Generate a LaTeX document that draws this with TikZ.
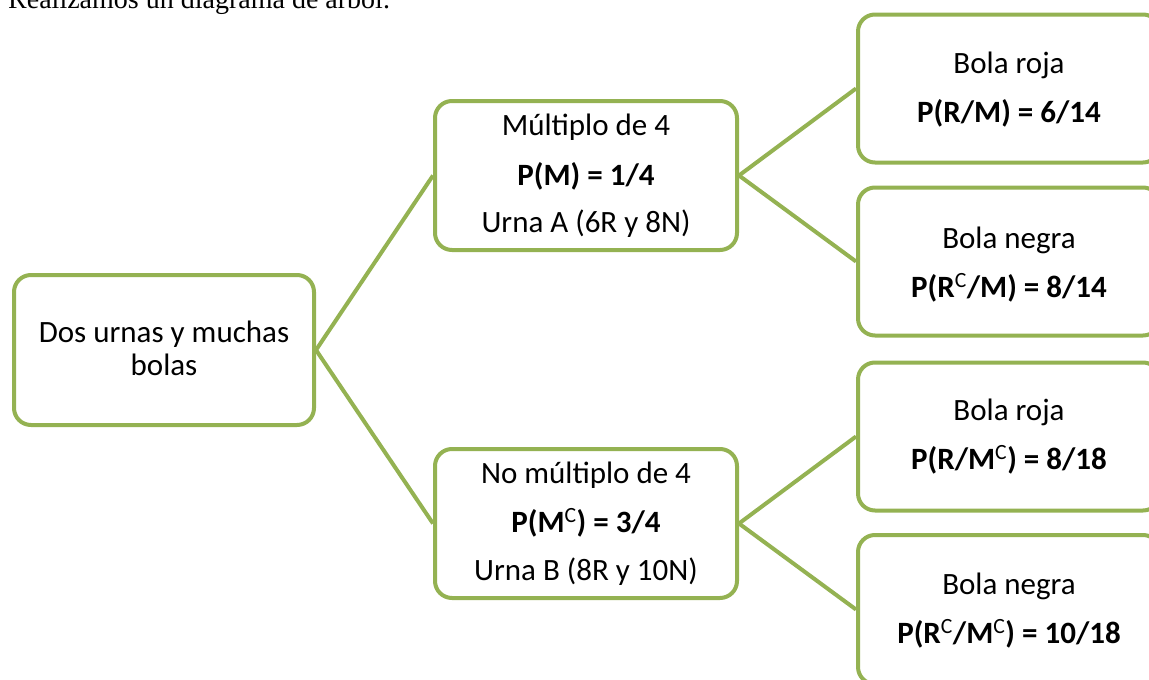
\documentclass[tikz,border=0pt]{standalone}
\usepackage{fontspec}
\setmainfont{Carlito}
\newfontfamily\timesfont{Liberation Serif}
\definecolor{olive}{RGB}{148,178,82}
\tikzset{
  box/.style={draw=olive, line width=4pt, rounded corners=17pt, fill=white,
    minimum width=302pt, minimum height=149pt, inner sep=0pt},
  conn/.style={draw=olive, line width=4pt},
  txt/.style={anchor=base, inner sep=0pt, font=\fontsize{31}{33}\selectfont},
  btxt/.style={txt, font=\fontsize{31}{33}\selectfont\bfseries}
}
\newcommand{\supC}{\textsuperscript{\mdseries C}}
\begin{document}
\begin{tikzpicture}[x=1pt,y=-1pt]
\useasboundingbox (0,0) rectangle (1149,680);
\clip (0,0) rectangle (1149,680);
\node[anchor=base west, inner sep=0pt, font=\timesfont\fontsize{28}{30}\selectfont] (title) at (8,9) {Realizamos un diagrama de árbol.};

\node[box, minimum width=300pt, minimum height=150pt] (root) at (164,350) {};
\node[box] (ma) at (586,175.5) {};
\node[box] (mb) at (586,523.5) {};
\node[box, minimum height=148pt] (r1) at (1009,88.5) {};
\node[box, minimum height=148pt] (r2) at (1009,261.5) {};
\node[box, minimum height=148pt] (r3) at (1009,436.5) {};
\node[box] (r4) at (1009,609.5) {};

\draw[conn] (root.east) -- (ma.west);
\draw[conn] (root.east) -- (mb.west);
\draw[conn] (ma.east) -- (r1.west);
\draw[conn] (ma.east) -- (r2.west);
\draw[conn] (mb.east) -- (r3.west);
\draw[conn] (mb.east) -- (r4.west);

\node[txt] (t1) at (164,342) {Dos urnas y muchas};
\node[txt] (t2) at (164,375) {bolas};

\node[txt] (a1) at (586,135) {Múltiplo de 4};
\node[btxt] (a2) at (586,185) {P(M) = 1/4};
\node[txt] (a3) at (586,232) {Urna A (6R y 8N)};

\node[txt] (b1) at (586,483) {No múltiplo de 4};
\node[btxt] (b2) at (586,532) {P(M\supC) = 3/4};
\node[txt] (b3) at (586,580) {Urna B (8R y 10N)};

\node[txt] (c1) at (1009,73) {Bola roja};
\node[btxt] (c2) at (1009,122) {P(R/M) = 6/14};

\node[txt] (d1) at (1009,248) {Bola negra};
\node[btxt] (d2) at (1009,297) {P(R\supC/M) = 8/14};

\node[txt] (e1) at (1009,420) {Bola roja};
\node[btxt] (e2) at (1009,469) {P(R/M\supC) = 8/18};

\node[txt] (f1) at (1009,594) {Bola negra};
\node[btxt] (f2) at (1009,643) {P(R\supC/M\supC) = 10/18};
\end{tikzpicture}
\end{document}
